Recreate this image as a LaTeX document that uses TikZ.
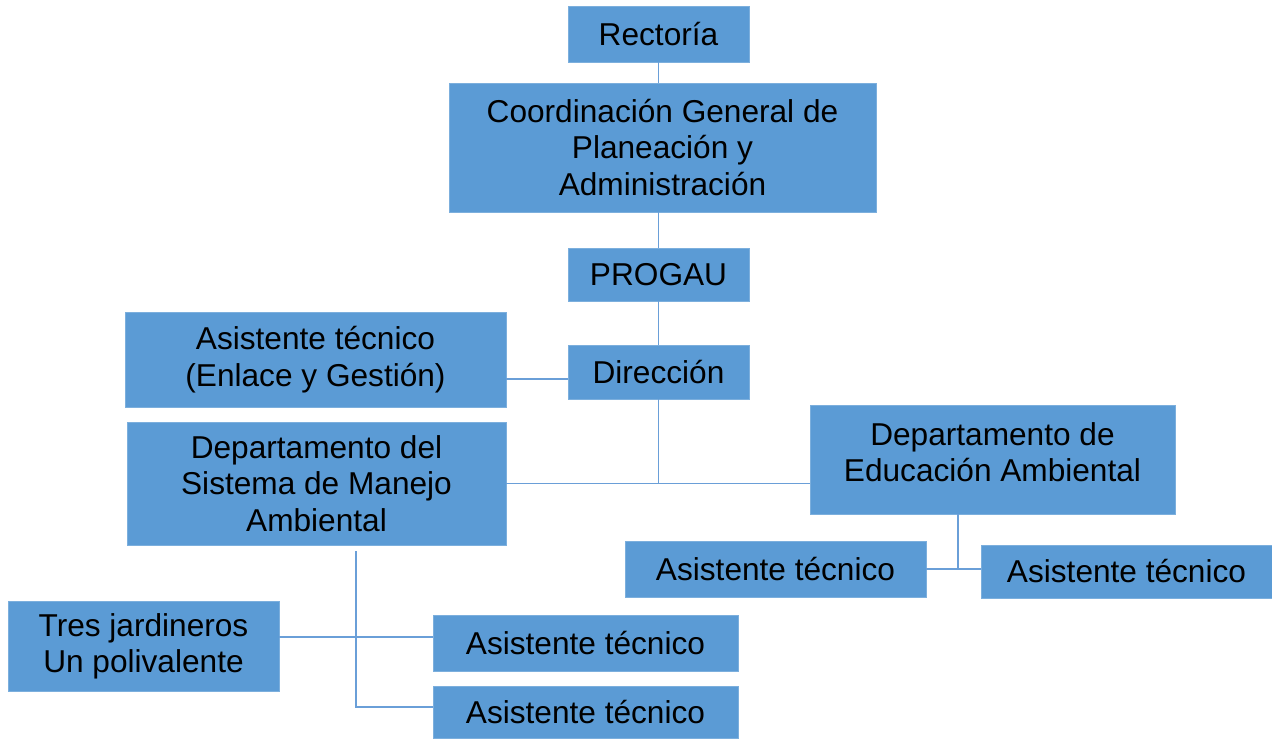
\documentclass[tikz,border=0pt]{standalone}
\usepackage{fontspec}
\setmainfont{Liberation Sans}
\usetikzlibrary{positioning}
\definecolor{boxblue}{HTML}{5B9BD5}
\definecolor{lineblue}{HTML}{6A9FD8}
\tikzset{
	%Define style for boxes
	caja/.style={
		rectangle,
		fill=boxblue,
		draw=boxblue!80!white, thin,
		inner sep=0pt,
		align=center,
		font=\fontsize{18}{20.7}\selectfont},
	% Define connector style
	enlace/.style={
		draw=lineblue,
		line width=0.7pt}
}
\begin{document}
\begin{tikzpicture}[x=0.02cm, y=-0.02cm]
	
	\useasboundingbox (0,0) rectangle (1272,738);
	
	\node[caja, minimum width=3.62cm, minimum height=1.12cm] (rectoria) at (658.5,34) {Rectoría};
	\node[caja, minimum width=8.54cm, minimum height=2.58cm] (coord) at (662.5,147.5) {Coordinación General de\\Planeación y\\Administración};
	\node[caja, minimum width=3.62cm, minimum height=1.06cm] (progau) at (658.5,274.5) {PROGAU};
	\node[caja, minimum width=3.62cm, minimum height=1.08cm] (direccion) at (658.5,372) {Dirección};
	\node[caja, minimum width=7.62cm, minimum height=1.9cm] (gestion) at (315.5,359.5) {Asistente técnico\\(Enlace y Gestión)};
	\node[caja, minimum width=7.58cm, minimum height=2.46cm] (sma) at (316.5,483.5) {Departamento del\\Sistema de Manejo\\Ambiental};
	\node[caja, minimum width=7.3cm, minimum height=2.18cm] (educacion) at (992.5,459.5) {Departamento de\\Educación Ambiental\\[-12pt]};
	\node[caja, minimum width=6.02cm, minimum height=1.12cm] (asistA) at (775.5,569) {Asistente técnico};
	\node[caja, minimum width=5.82cm, minimum height=1.06cm] (asistB) at (1126.5,571.5) {Asistente técnico};
	\node[caja, minimum width=5.42cm, minimum height=1.8cm] (jardineros) at (143.5,646) {Tres jardineros\\Un polivalente};
	\node[caja, minimum width=6.1cm, minimum height=1.12cm] (asistC) at (585.5,643) {Asistente técnico};
	\node[caja, minimum width=6.1cm, minimum height=1.04cm] (asistD) at (585.5,712) {Asistente técnico};
	
	% joints of the connectors
	\coordinate (edujoint) at (958,514);
	\coordinate (smajoint) at (356,551);
	\coordinate (dirjoint) at (568,379);
	
	\path[enlace]
	(rectoria.south) -- (rectoria.south |- coord.north)
	(progau.north |- coord.south) -- (progau.north)
	(progau) -- (direccion)
	(dirjoint) -- (dirjoint -| gestion.east)
	(direccion.south) -- (direccion.south |- sma.east)
	(sma.east) -- (sma.east -| educacion.west)
	(edujoint) -- (edujoint |- asistA.east)
	(asistA.east) -- (asistA.east -| asistB.west)
	(smajoint) -- (smajoint |- 0,707) -- (asistD.west |- 0,707)
	(jardineros.east |- 0,637) -- (asistC.west |- 0,637);
	
\end{tikzpicture}
\end{document}
